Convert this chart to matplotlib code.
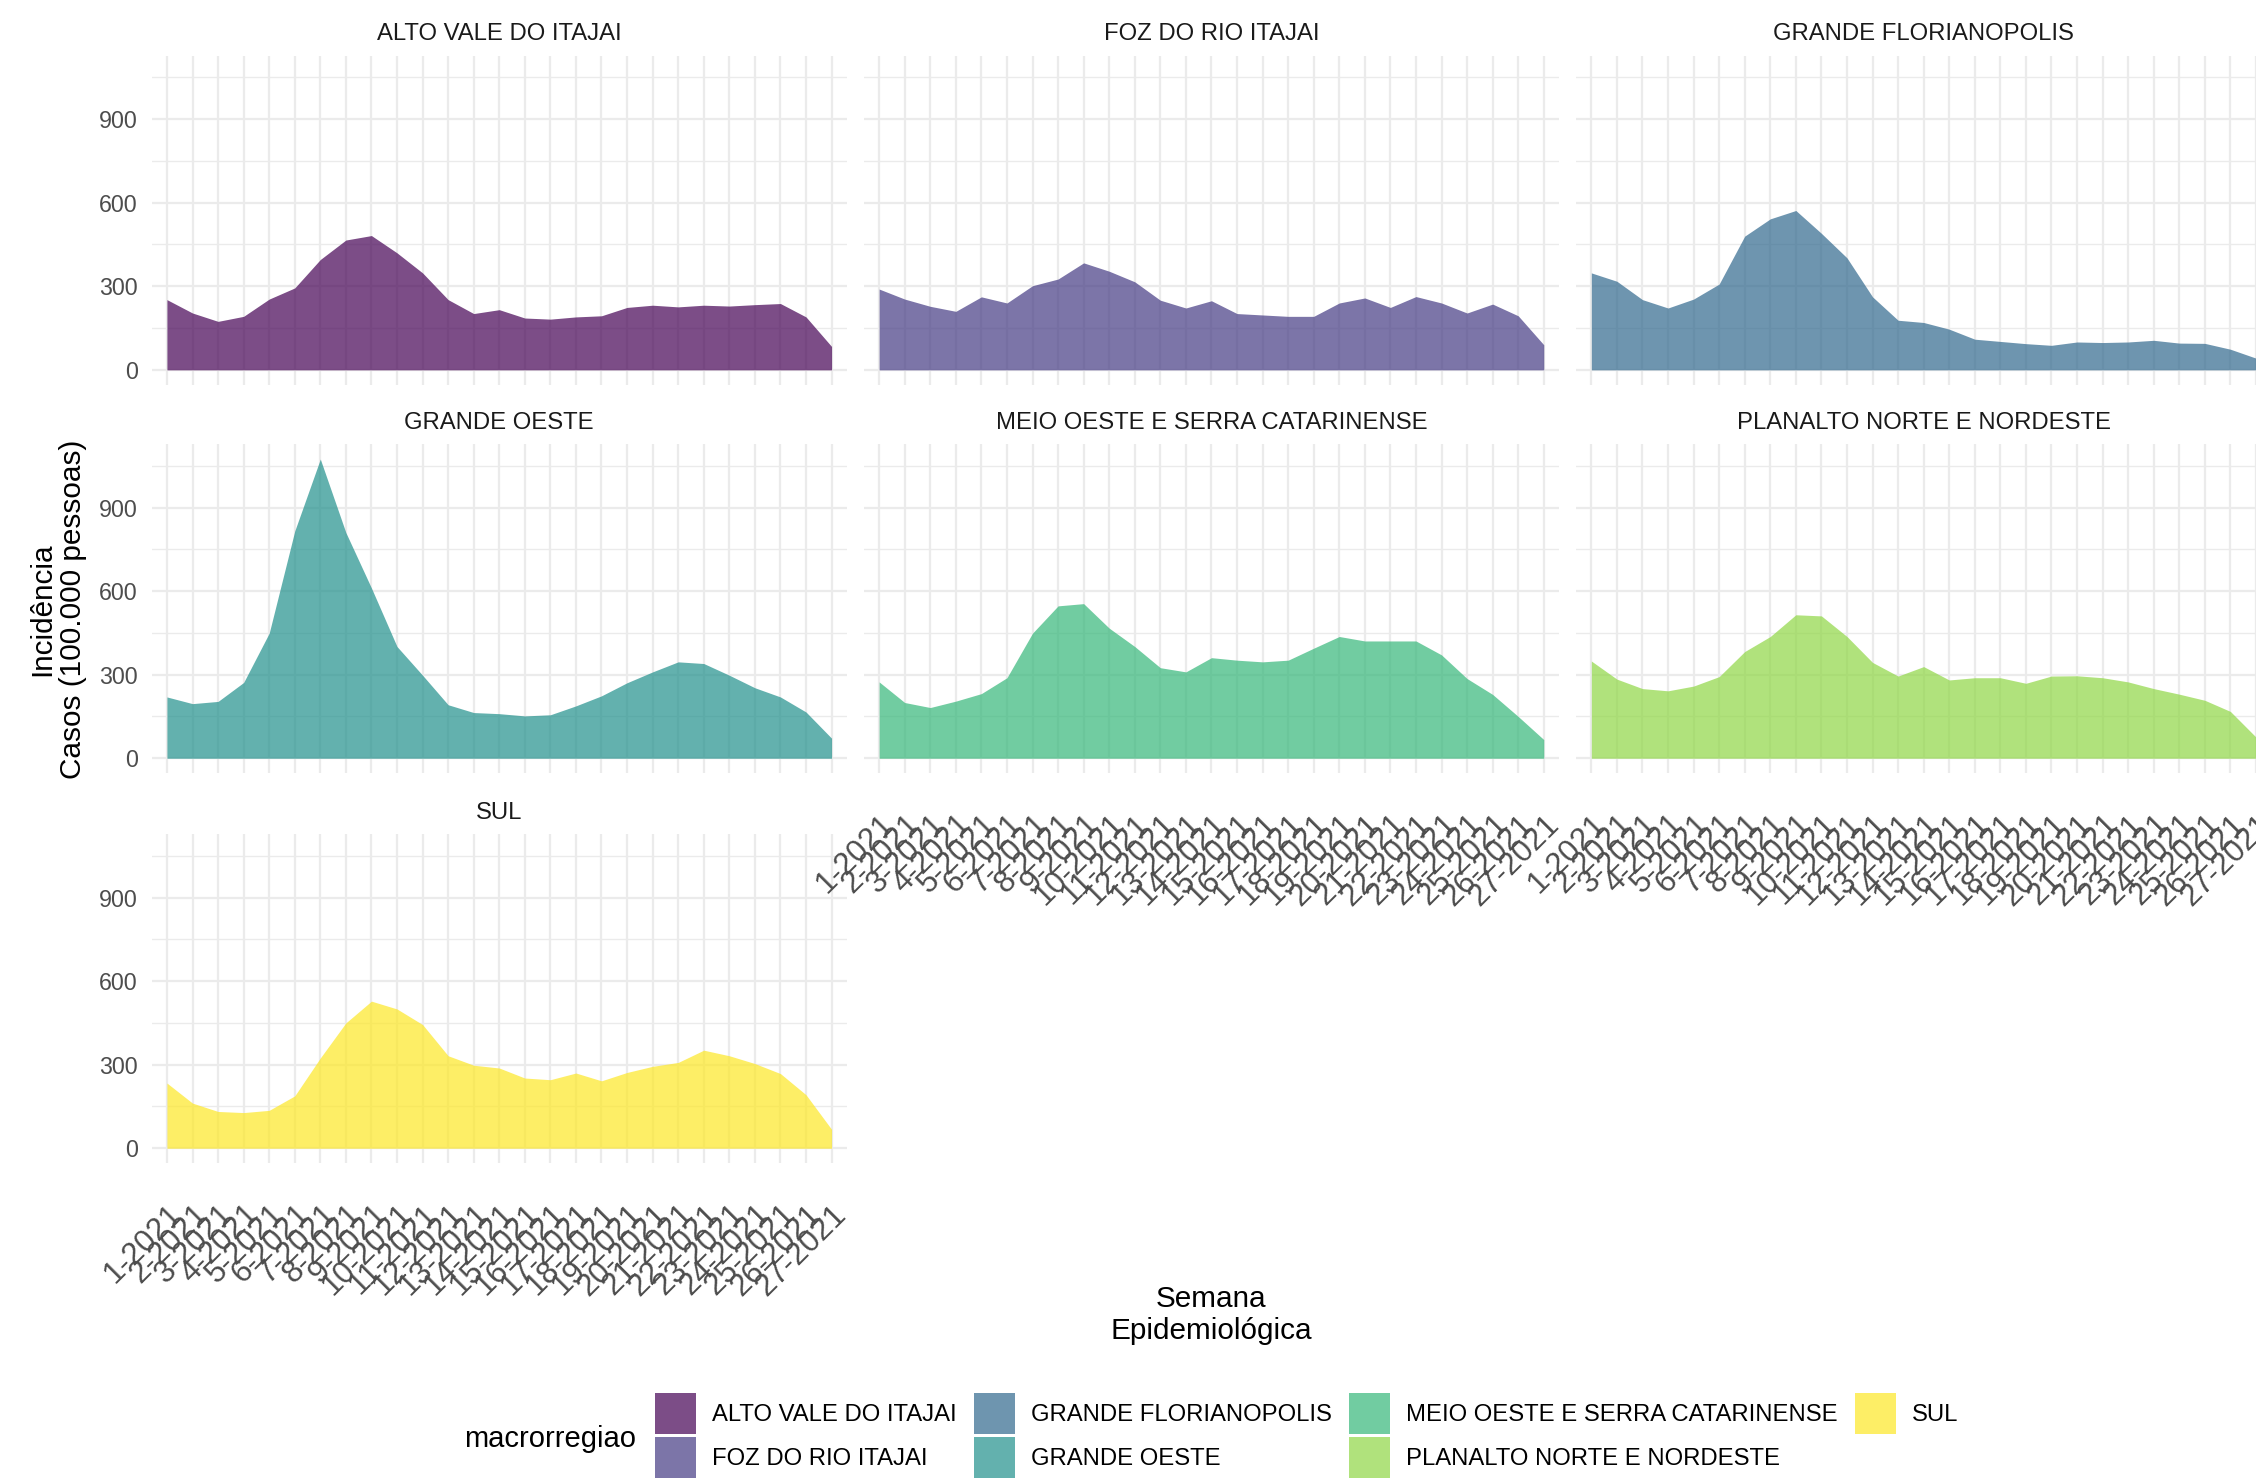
import matplotlib
matplotlib.use("Agg")
import matplotlib.pyplot as plt
from matplotlib.patches import Patch
from matplotlib.ticker import MultipleLocator

plt.rcParams['font.family'] = ['Liberation Sans', 'DejaVu Sans']

# semanas epidemiologicas (eixo x discreto)
semanas = [f"{i}-2021" for i in range(1, 28)]

regioes = ['ALTO VALE DO ITAJAI', 'FOZ DO RIO ITAJAI', 'GRANDE FLORIANOPOLIS',
           'GRANDE OESTE', 'MEIO OESTE E SERRA CATARINENSE',
           'PLANALTO NORTE E NORDESTE', 'SUL']

# incidencia por 100.000 pessoas
alto_vale = [252, 204, 174, 192, 254, 294, 396, 466, 482, 420, 348, 252, 202, 216,
             186, 182, 190, 194, 224, 232, 226, 232, 229, 234, 238, 190, 84]
foz_rio = [290, 254, 228, 210, 262, 240, 302, 326, 384, 354, 316, 250, 222, 248,
           202, 197, 192, 192, 240, 258, 224, 263, 240, 204, 236, 194, 90]
grande_floripa = [348, 318, 252, 222, 254, 308, 480, 542, 572, 490, 402, 262, 178, 170,
                  146, 110, 102, 94, 88, 100, 98, 100, 106, 96, 95, 74, 42]
grande_oeste = [220, 196, 204, 272, 449, 816, 1074, 810, 611, 401, 298, 192, 164, 160,
                152, 156, 188, 224, 271, 310, 346, 340, 298, 253, 220, 166, 72]
meio_oeste = [274, 200, 182, 205, 232, 289, 449, 547, 555, 467, 401, 325, 310, 361,
              352, 346, 352, 395, 437, 421, 421, 421, 371, 286, 229, 150, 67]
planalto = [349, 284, 250, 242, 259, 293, 383, 437, 515, 511, 437, 344, 295, 329,
            281, 289, 289, 269, 295, 296, 289, 274, 250, 230, 208, 168, 76]
sul = [234, 162, 132, 128, 136, 188, 324, 450, 528, 500, 444, 332, 298, 288,
       252, 246, 270, 242, 272, 294, 308, 352, 332, 304, 268, 192, 68]

series = [alto_vale, foz_rio, grande_floripa, grande_oeste, meio_oeste, planalto, sul]
cores = ['#440154', '#443A83', '#31688E', '#21908C', '#35B779', '#8FD744', '#FDE725']

W, H = 2256, 1478
fig = plt.figure(figsize=(W / 200, H / 200), dpi=200)

# layout dos paineis em pixels (facet_wrap, 3 colunas)
col_left = [151.6, 863.8, 1576.0]
row_top = [55.7, 444.1, 834.1]
pw, ph = 695.3, 329.1

ymax = max(max(s) for s in series)
x = list(range(len(semanas)))

for i, (nome, vals, cor) in enumerate(zip(regioes, series, cores)):
    r, c = divmod(i, 3)
    ax = fig.add_axes([col_left[c] / W, 1 - (row_top[r] + ph) / H, pw / W, ph / H])
    # fundo transparente para nao cobrir rotulos de paineis vizinhos
    ax.patch.set_visible(False)
    ax.set_xlim(-0.6, len(semanas) - 0.4)
    ax.set_ylim(-0.05 * ymax, 1.05 * ymax)
    ax.yaxis.set_major_locator(MultipleLocator(300))
    ax.yaxis.set_minor_locator(MultipleLocator(150))
    ax.set_xticks(x)
    ax.grid(True, which='major', color='#EBEBEB', linewidth=0.8)
    ax.grid(True, which='minor', axis='y', color='#EBEBEB', linewidth=0.5)
    ax.set_axisbelow(True)
    for sp in ax.spines.values():
        sp.set_visible(False)

    ax.fill_between(x, vals, 0, color=cor, alpha=0.7, linewidth=0)

    ax.set_title(nome, fontsize=8.6, color='#1A1A1A', pad=5.6)
    ax.tick_params(axis='both', which='both', length=0)
    ax.tick_params(axis='y', pad=5, labelsize=8.4, labelcolor='#4D4D4D')

    if c == 0:
        ax.set_yticklabels([str(int(t)) for t in ax.get_yticks()])
    else:
        ax.set_yticklabels([])

    # rotulos do eixo x so no painel mais baixo de cada coluna
    if i >= 4:
        ax.set_xticklabels(semanas, rotation=45, ha='right', va='top',
                           rotation_mode='anchor', fontsize=11.2, color='#4D4D4D')
        ax.tick_params(axis='x', pad=13)
        if c > 0:
            ax.set_zorder(2)
    else:
        ax.set_xticklabels([])

fig.text(57.5 / W, 1 - 609 / H, "Incidência\nCasos (100.000 pessoas)", rotation=90,
         ha='center', va='center', fontsize=10.7, linespacing=1.15)
fig.text(1211 / W, 1 - 1315 / H, "Semana\nEpidemiológica",
         ha='center', va='center', fontsize=10.7, linespacing=1.15)

handles = [Patch(facecolor=cor, alpha=0.7, edgecolor='none') for cor in cores]
fig.legend(handles, regioes, ncol=4, loc='upper left',
           bbox_to_anchor=(654.6 / W, 1 - 1392.8 / H), frameon=False, fontsize=8.6,
           handlelength=1.74, handleheight=2.3, handletextpad=0.65,
           columnspacing=0.72, labelspacing=0.1, borderpad=0, borderaxespad=0)
fig.text(549.6 / W, 1 - 1439 / H, "macrorregiao", ha='center', va='center', fontsize=10.5)

fig.savefig("out.png", dpi=200)
